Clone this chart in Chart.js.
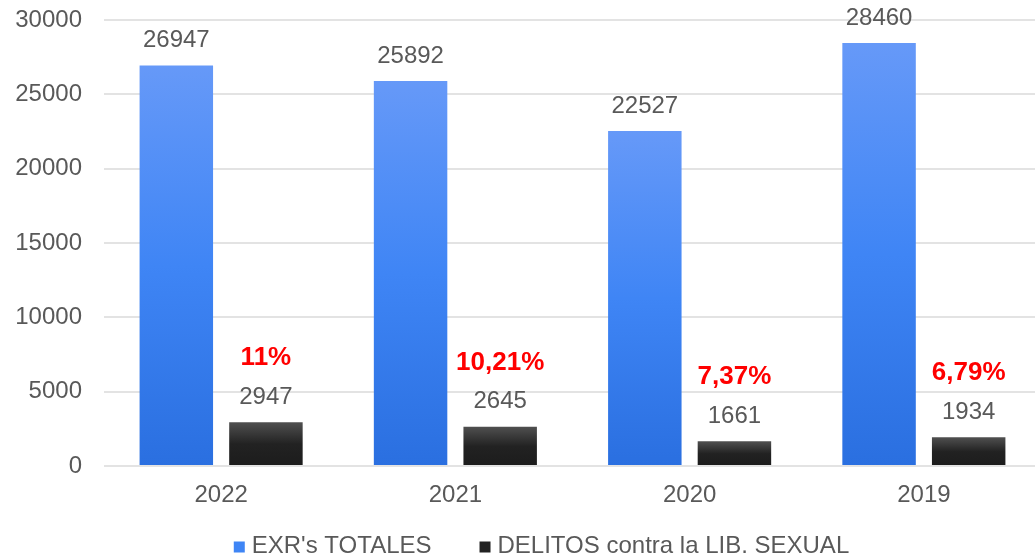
<!DOCTYPE html>
<html><head><meta charset="utf-8">
<script src="https://cdn.jsdelivr.net/npm/chart.js@4/dist/chart.umd.min.js"></script>
<style>html,body{margin:0;padding:0;background:#fff;overflow:hidden}#wrap{width:1035px;height:559px;overflow:hidden}</style>
</head><body><div id="wrap"><canvas id="c" width="1041" height="559"></canvas></div>
<script>
const categories = ["2022", "2021", "2020", "2019"];
const seriesNames = ["EXR's TOTALES", "DELITOS contra la LIB. SEXUAL"];
const totales = [26947, 25892, 22527, 28460];
const delitos = [2947, 2645, 1661, 1934];
const percentLabels = ["11%", "10,21%", "7,37%", "6,79%"];
const yTicks = [0, 5000, 10000, 15000, 20000, 25000, 30000];

const FONT = "'Liberation Sans', Arial, sans-serif";
const TEXT = '#595959';

function barGradient(ctx, stops) {
  const chart = ctx.chart;
  if (!chart.chartArea || ctx.type !== 'data') return stops[stops.length-1][1];
  const y = chart.scales.y;
  const top = y.getPixelForValue(ctx.raw);
  const base = y.getPixelForValue(0);
  if (!isFinite(top) || Math.abs(base - top) < 1) return stops[stops.length-1][1];
  const g = chart.ctx.createLinearGradient(0, top, 0, base);
  stops.forEach(s => g.addColorStop(s[0], s[1]));
  return g;
}
const blueStops = [[0, '#6699f8'], [0.5, '#3f85f5'], [1, '#2a6fe0']];
const blackStops = [[0, '#505050'], [0.5, '#222222'], [1, '#1c1c1c']];

const labelPlugin = {
  id: 'valueLabels',
  afterDatasetsDraw(chart) {
    const c = chart.ctx;
    c.save();
    c.textAlign = 'center';
    c.textBaseline = 'middle';
    chart.data.datasets.forEach((ds, di) => {
      const meta = chart.getDatasetMeta(di);
      meta.data.forEach((el, i) => {
        c.fillStyle = TEXT;
        c.font = '24px ' + FONT;
        c.fillText(String(ds.data[i]), el.x, el.y - 25);
        if (di === 1) {
          c.fillStyle = '#ff0000';
          c.font = 'bold 26px ' + FONT;
          c.fillText(percentLabels[i], el.x, el.y - 64);
        }
      });
    });
    // custom legend
    const items = [
      { text: seriesNames[0], color: '#3f85f5' },
      { text: seriesNames[1], color: '#222222' }
    ];
    c.font = '24px ' + FONT;
    c.textAlign = 'left';
    const box = 11, gapBox = 7, gapItem = 48;
    let total = 0;
    items.forEach((it, i) => { total += box + gapBox + c.measureText(it.text).width + (i ? gapItem : 0); });
    let x = (chart.width - total) / 2 + 21;
    const yc = 546;
    items.forEach((it, i) => {
      if (i) x += gapItem;
      c.fillStyle = it.color;
      c.fillRect(x, yc - box / 2 + 1, box, box);
      x += box + gapBox;
      c.fillStyle = TEXT;
      c.fillText(it.text, x, yc);
      x += c.measureText(it.text).width;
    });
    c.restore();
  }
};

new Chart(document.getElementById('c'), {
  type: 'bar',
  data: {
    labels: categories,
    datasets: [
      { label: seriesNames[0], data: totales,
        backgroundColor: ctx => barGradient(ctx, blueStops),
        categoryPercentage: 0.765, barPercentage: 0.82 },
      { label: seriesNames[1], data: delitos,
        backgroundColor: ctx => barGradient(ctx, blackStops),
        categoryPercentage: 0.765, barPercentage: 0.82 }
    ]
  },
  options: {
    responsive: false,
    animation: false,
    devicePixelRatio: 1,
    layout: { padding: { left: 16, right: 0, top: 20, bottom: 49 } },
    plugins: {
      tooltip: { enabled: false },
      legend: { display: false }
    },
    scales: {
      x: {
        grid: { display: false, drawTicks: false },
        border: { display: false },
        ticks: { color: TEXT, font: { family: FONT, size: 24 }, padding: 15 },
        afterFit(axis) { axis.height = 44; axis.paddingLeft = 0; axis.paddingRight = 0; }
      },
      y: {
        min: 0, max: 30000,
        afterBuildTicks(axis) { axis.ticks = yTicks.map(v => ({ value: v })); },
        grid: { color: '#e3e3e3', lineWidth: 2, drawTicks: false },
        border: { display: false },
        ticks: { color: TEXT, font: { family: FONT, size: 24 }, padding: 22,
                 callback: v => String(v) },
        afterFit(axis) { axis.width = 88; axis.paddingTop = 0; axis.paddingBottom = 0; }
      }
    }
  },
  plugins: [labelPlugin]
});
</script>
</body></html>
